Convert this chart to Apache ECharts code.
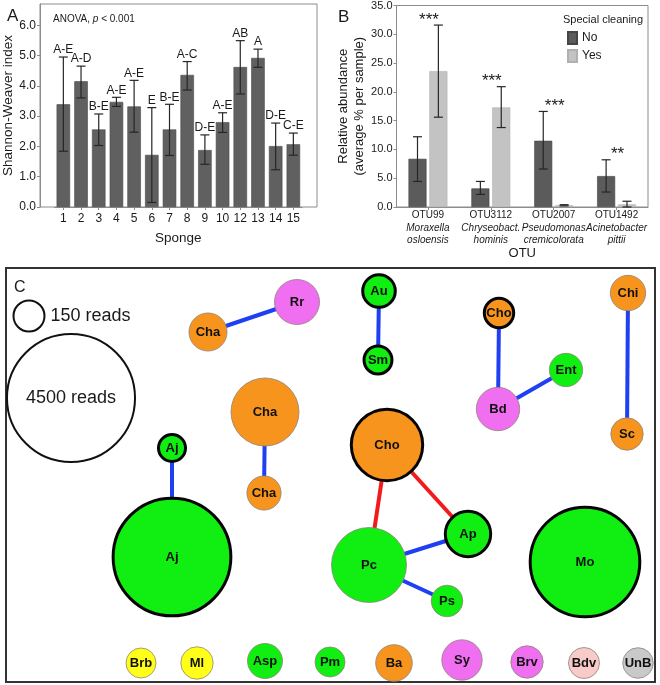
<!DOCTYPE html>
<html><head><meta charset="utf-8">
<script src="https://cdn.jsdelivr.net/npm/echarts@6/dist/echarts.min.js"></script>
<style>html,body{margin:0;padding:0;background:#fff}#c{width:660px;height:685px}</style>
</head><body><div id="c"></div>
<script>
// ---------- Panel A : Shannon-Weaver index per sponge ----------
const spongeCats    = ['1','2','3','4','5','6','7','8','9','10','12','13','14','15'];
const shannonMean   = [3.39,4.15,2.56,3.47,3.32,1.72,2.56,4.36,1.88,2.80,4.62,4.92,2.01,2.07];
const shannonLow    = [1.84,3.60,2.03,3.32,2.47,0.15,1.70,3.86,1.41,2.46,3.73,4.61,1.23,1.71];
const shannonHigh   = [4.95,4.65,3.07,3.62,4.18,3.28,3.39,4.80,2.38,3.11,5.49,5.21,2.77,2.44];
const shannonGroups = ['A-E','A-D','B-E','A-E','A-E','E','B-E','A-C','D-E','A-E','AB','A','D-E','C-E'];
const shannonTicks  = [0,1,2,3,4,5,6];

// ---------- Panel B : relative abundance by special cleaning ----------
const otuIds     = ['OTU99','OTU3112','OTU2007','OTU1492'];
const otuGenus   = ['Moraxella','Chryseobact.','Pseudomonas','Acinetobacter'];
const otuSpecies = ['osloensis','hominis','cremicolorata','pittii'];
const noMean  = [8.37,3.23,11.5,5.37];
const noLow   = [4.44,2.19,6.6,2.6];
const noHigh  = [12.2,4.44,16.6,8.2];
const yesMean = [23.6,17.3,0.3,0.45];
const yesLow  = [15.6,13.8,0.2,0.0];
const yesHigh = [31.6,20.9,0.4,1.0];
const sigMarks = ['***','***','***','**'];

// ---------- Panel C : co-occurrence network ----------
const nodeLabels = ['Cha','Rr','Cha','Cha','Aj','Aj','Au','Sm','Cho','Bd','Ent','Chi','Sc','Cho','Ap','Pc','Ps','Mo','Brb','Ml','Asp','Pm','Ba','Sy','Brv','Bdv','UnB'];
const nodeGroup  = ['orange','magenta','orange','orange','green','green','green','green','orange','magenta','green','orange','orange','orange','green','green','green','green','yellow','yellow','green','green','orange','magenta','magenta','pink','grey'];
const nodeReads  = [245,367,987,190,108,3680,169,117,132,336,179,206,167,1109,374,1248,157,3100,139,167,201,139,224,283,167,150,145];
const nodeOutlined = [0,0,0,0,1,1,1,1,1,0,0,0,0,1,1,0,0,1,0,0,0,0,0,0,0,0,0];
const layoutX = [202,291,259,258,166,166,373,372,493,492,560,622,621,381,462,363,441,579,135,191,259,324,388,456,521,578,632];
const layoutY = [64,34,144,225,180,289,23,92,45,141,102,25,166,177,266,297,333,294,395,395,393,394,395,392,394,395,395];
const linkFrom = [0,2,4,6,8,9,11,13,13,15,15];
const linkTo   = [1,3,5,7,9,10,12,15,14,14,16];
const linkSign = ['+','+','+','+','+','+','+','-','-','+','+'];
const legendReads = [150,4500];
const legendLayoutX = [23,65];
const legendLayoutY = [48,130];

const FONT = '"Liberation Sans", Arial, Helvetica, sans-serif';
const AX = '#8c8c8c';
const TXT = '#1a1a1a';
const groupColors = {green:'#11ee11', orange:'#f7941d', magenta:'#f06ef0', yellow:'#ffff1a', pink:'#f8caca', grey:'#c9c9c9'};
const sizeOf = r => 31 * Math.pow(r / 150, 0.417);

function errorSeries(xi, yi, lows, highs, shift, cap, labels) {
  return {
    type:'custom', xAxisIndex:xi, yAxisIndex:yi, silent:true, z:5, clip:false,
    data: lows.map((l,i)=>[i,l,highs[i]]),
    encode:{x:0, y:[1,2]},
    renderItem(params, api){
      const i = api.value(0);
      const lo = api.coord([i, api.value(1)]);
      const hi = api.coord([i, api.value(2)]);
      const x = lo[0] + shift;
      const st = {stroke:'#262626', lineWidth:1.2};
      const ch = [
        {type:'line', shape:{x1:x,y1:lo[1],x2:x,y2:hi[1]}, style:st},
        {type:'line', shape:{x1:x-cap,y1:lo[1],x2:x+cap,y2:lo[1]}, style:st},
        {type:'line', shape:{x1:x-cap,y1:hi[1],x2:x+cap,y2:hi[1]}, style:st}
      ];
      if (labels) ch.push({type:'text', x:x, y:hi[1]-1, style:{text:labels[params.dataIndex], align:'center', verticalAlign:'bottom', fontSize:12, fontFamily:FONT, fill:TXT}});
      return {type:'group', children:ch};
    }
  };
}

const barW = 18, gapPx = 18*0.16, half = (barW+gapPx)/2;

const option = {
  animation:false,
  textStyle:{fontFamily:FONT},
  title:[
    {text:'A', left:2, top:3, textStyle:{fontSize:17, fontWeight:'normal', color:TXT, fontFamily:FONT}},
    {text:'{n|ANOVA, }{i|p}{n| < 0.001}', left:48, top:9, textStyle:{fontWeight:'normal', rich:{n:{fontSize:10, fontWeight:'normal', color:TXT, fontFamily:FONT}, i:{fontSize:10, fontWeight:'normal', fontStyle:'italic', color:TXT, fontFamily:FONT}}}},
    {text:'B', left:333, top:4, textStyle:{fontSize:17, fontWeight:'normal', color:TXT, fontFamily:FONT}},
    {text:'Special cleaning', left:558, top:9, textStyle:{fontSize:11, fontWeight:'normal', color:TXT, fontFamily:FONT}},
    {text:'C', left:9, top:275, textStyle:{fontSize:16, fontWeight:'normal', color:TXT, fontFamily:FONT}}
  ],
  legend:{data:['No','Yes'], orient:'vertical', left:562, top:26, itemWidth:9, itemHeight:12, itemGap:4, icon:'rect',
    textStyle:{fontSize:12, color:TXT, fontFamily:FONT}, selectedMode:false},
  grid:[
    {left:40, top:4, width:277, height:203, show:true, borderColor:AX, borderWidth:1},
    {left:54.5, top:4, width:247.7, height:203},
    {left:396.5, top:4, width:251.5, height:203, show:true, borderColor:AX, borderWidth:1},
    {left:6, top:268, width:649, height:414, show:true, borderColor:'#333', borderWidth:2}
  ],
  xAxis:[
    {gridIndex:0, type:'value', min:0, max:1, show:false},
    {gridIndex:1, type:'category', data:spongeCats,
      axisLine:{show:true, lineStyle:{color:AX}}, axisTick:{show:true, alignWithLabel:true, length:3, lineStyle:{color:AX}},
      axisLabel:{interval:0, fontSize:12, color:TXT, margin:6},
      name:'Sponge', nameLocation:'middle', nameGap:24, nameTextStyle:{fontSize:13.5, color:TXT}},
    {gridIndex:2, type:'category', data:otuIds,
      axisLine:{show:true, lineStyle:{color:AX}}, axisTick:{show:true, alignWithLabel:true, length:3, lineStyle:{color:AX}},
      axisLabel:{interval:0, fontSize:10, lineHeight:12.5, color:TXT, margin:2,
        formatter:(v,i)=> v + '\n{it|' + otuGenus[i] + '}\n{it|' + otuSpecies[i] + '}',
        rich:{it:{fontSize:10, lineHeight:12.5, fontStyle:'italic', color:TXT, fontFamily:FONT}}},
      name:'OTU', nameLocation:'middle', nameGap:39, nameTextStyle:{fontSize:13, color:TXT}},
    {gridIndex:3, type:'value', min:0, max:649, show:false}
  ],
  yAxis:[
    {gridIndex:0, type:'value', min:0, max:1, show:false},
    {gridIndex:1, type:'value', min:0, max:6.7, offset:14.5,
      axisLine:{show:true, lineStyle:{color:AX}}, axisTick:{show:true, length:3, lineStyle:{color:AX}, customValues:shannonTicks},
      axisLabel:{fontSize:12, color:TXT, margin:4, customValues:shannonTicks, formatter:v=>v.toFixed(1)},
      splitLine:{show:false},
      name:'Shannon-Weaver index', nameLocation:'middle', nameRotate:90, nameGap:23, nameTextStyle:{fontSize:13.5, color:TXT}},
    {gridIndex:2, type:'value', min:0, max:35, interval:5,
      axisLine:{show:true, lineStyle:{color:AX}}, axisTick:{show:true, length:3, lineStyle:{color:AX}},
      axisLabel:{fontSize:11, color:TXT, margin:4, formatter:v=>v.toFixed(1)},
      splitLine:{show:false},
      name:'Relative abundance\n(average % per sample)', nameLocation:'middle', nameRotate:90, nameGap:28,
      nameTextStyle:{fontSize:13, lineHeight:16, color:TXT}},
    {gridIndex:3, type:'value', min:0, max:414, inverse:true, show:false}
  ],
  series:[
    {type:'bar', xAxisIndex:1, yAxisIndex:1, data:shannonMean, barWidth:13.5, silent:true,
      itemStyle:{color:'#606060', borderColor:'#4a4a4a', borderWidth:0.6}},
    errorSeries(1,1,shannonLow,shannonHigh,0,4.5,shannonGroups),
    {type:'bar', name:'No', xAxisIndex:2, yAxisIndex:2, data:noMean, barWidth:barW, barGap:'16%', silent:true,
      itemStyle:{color:'#5b5b5b', borderColor:'#454545', borderWidth:0.6}},
    {type:'bar', name:'Yes', xAxisIndex:2, yAxisIndex:2, data:yesMean, barWidth:barW, barGap:'16%', silent:true,
      itemStyle:{color:'#c3c3c3', borderColor:'#b0b0b0', borderWidth:0.6}},
    errorSeries(2,2,noLow,noHigh,-half,4.5,null),
    errorSeries(2,2,yesLow,yesHigh,half,4.5,null),
    {type:'custom', xAxisIndex:2, yAxisIndex:2, silent:true, z:6, clip:false,
      data: otuIds.map((_,i)=>[i, Math.max(noHigh[i], yesHigh[i])]),
      encode:{x:0, y:1},
      renderItem(params, api){
        const p = api.coord([api.value(0), api.value(1)]);
        return {type:'text', x:p[0]+1, y:p[1]-5, style:{text:sigMarks[params.dataIndex], align:'center', verticalAlign:'middle', fontSize:17, fontFamily:FONT, fill:TXT}};
      }},
    {type:'scatter', xAxisIndex:3, yAxisIndex:3, silent:true, z:3,
      data: legendReads.map((r,i)=>({value:[legendLayoutX[i], legendLayoutY[i]], symbolSize:sizeOf(r),
        label:{show:true, position: i===0 ? 'right' : 'inside', distance:5, formatter: r + ' reads', fontSize:18, color:TXT, fontFamily:FONT}})),
      itemStyle:{color:'#ffffff', borderColor:'#111', borderWidth:2, opacity:1}},
    {type:'graph', coordinateSystem:'cartesian2d', xAxisIndex:3, yAxisIndex:3, layout:'none', silent:true, z:4,
      roam:false, draggable:false,
      data: nodeLabels.map((n,i)=>({id:'n'+i, name:n, value:[layoutX[i], layoutY[i]],
        symbolSize: sizeOf(nodeReads[i]),
        itemStyle:{color:groupColors[nodeGroup[i]], borderColor: nodeOutlined[i] ? '#050505' : '#8f8478', borderWidth: nodeOutlined[i] ? 3 : 0.8, opacity:1}})),
      links: linkFrom.map((s,i)=>({source:s, target:linkTo[i], lineStyle:{color: linkSign[i]==='+' ? '#1f3ff2' : '#f21b1b', width:4, opacity:1}})),
      lineStyle:{width:4, opacity:1, curveness:0},
      label:{show:true, position:'inside', fontWeight:'bold', fontSize:13, color:'#111', fontFamily:FONT},
      emphasis:{disabled:true}}
  ]
};
const chart = echarts.init(document.getElementById('c'));
chart.setOption(option);
</script></body></html>
